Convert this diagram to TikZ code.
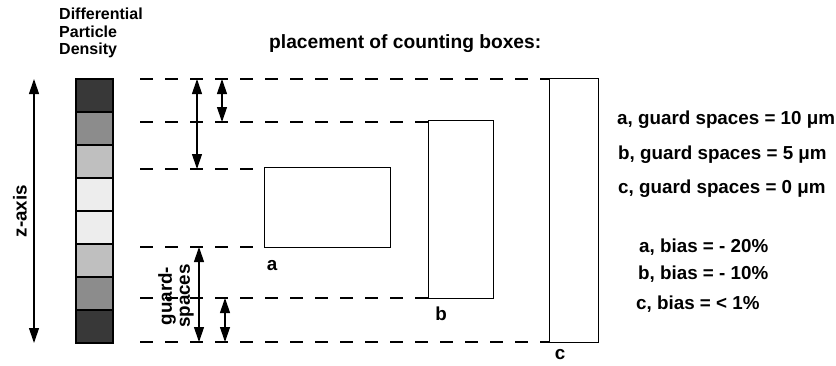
\documentclass[tikz,border=0pt]{standalone}
\usepackage{fontspec}
\setmainfont{Liberation Sans}
\usetikzlibrary{arrows.meta}
\begin{document}
\begin{tikzpicture}[x=1bp,y=-1bp,
  lbl/.style={font=\fontsize{18.8bp}{22bp}\selectfont\bfseries, inner sep=0pt},
  guide/.style={line width=1.3bp, dash pattern=on 13bp off 12bp},
  cbox/.style={draw, line width=1.3bp},
  seg/.style={draw, line width=1.2bp},
  dim/.style={line width=1.2bp, {Triangle[width=10bp,length=15bp]}-{Triangle[width=10bp,length=15bp]}}
]
\useasboundingbox (0,0) rectangle (836,365);

% title of the density column
\node[lbl, font=\fontsize{16bp}{17.5bp}\selectfont\bfseries, align=left, anchor=north west] (dpd) at (59,8) {Differential\\Particle\\Density};
\node[lbl, font=\fontsize{19.2bp}{22bp}\selectfont\bfseries, anchor=base west] (title) at (269,48) {placement of counting boxes:};

% density column
\foreach \i/\g in {0/22,1/55,2/75,3/93,4/93,5/75,6/55,7/22}{
  \path[seg, fill=black!\the\numexpr100-\g\relax!white]
    (76,{79+\i*33}) rectangle (113,{79+(\i+1)*33});
}
\coordinate (ztop) at (34,79);
\coordinate (zbot) at (34,343);
\draw[dim] (ztop) -- (zbot);
\node[lbl, rotate=90] (zlab) at (20,211) {z-axis};

% dashed guide lines
\coordinate (g1a) at (140,79);  \coordinate (g1b) at (549,79);
\coordinate (g2a) at (140,122); \coordinate (g2b) at (428,122);
\coordinate (g3a) at (140,169); \coordinate (g3b) at (256,169);
\coordinate (g4a) at (140,247); \coordinate (g4b) at (256,247);
\coordinate (g5a) at (140,298); \coordinate (g5b) at (428,298);
\coordinate (g6a) at (140,342); \coordinate (g6b) at (549,342);
\foreach \k in {1,...,6}{ \draw[guide] (g\k a) -- (g\k b); }

% counting boxes
\node[cbox, minimum width=126bp, minimum height=80bp, inner sep=0pt, anchor=north west] (boxa) at (264,167) {};
\node[cbox, minimum width=65bp, minimum height=178bp, inner sep=0pt, anchor=north west] (boxb) at (428,120) {};
\node[cbox, minimum width=49bp, minimum height=264bp, inner sep=0pt, anchor=north west] (boxc) at (549,78) {};
\node[lbl] (la) at (272,266) {a};
\node[lbl] (lb) at (441,314) {b};
\node[lbl] (lc) at (560,355) {c};

% dimension arrows
\coordinate (d1t) at (197,79);  \coordinate (d1b) at (197,169);
\coordinate (d2t) at (222,79);  \coordinate (d2b) at (222,122);
\coordinate (d3t) at (199,247); \coordinate (d3b) at (199,342);
\coordinate (d4t) at (225,298); \coordinate (d4b) at (225,342);
\draw[dim] (d1t) -- (d1b);
\draw[dim] (d2t) -- (d2b);
\draw[dim] (d3t) -- (d3b);
\draw[dim] (d4t) -- (d4b);
\node[lbl, rotate=90, align=center, font=\fontsize{18.8bp}{18bp}\selectfont\bfseries] (gs) at (176,296) {guard-\\spaces};

% results
\node[lbl, anchor=base west] (r1) at (617,124) {a, guard spaces = 10 μm};
\node[lbl, anchor=base west] (r2) at (618,159) {b, guard spaces = 5 μm};
\node[lbl, anchor=base west] (r3) at (618,193) {c, guard spaces = 0 μm};
\node[lbl, anchor=base west] (r4) at (639,252) {a, bias = - 20\%};
\node[lbl, anchor=base west] (r5) at (638,279) {b, bias = - 10\%};
\node[lbl, anchor=base west] (r6) at (636,309) {c, bias = < 1\%};
\end{tikzpicture}
\end{document}
